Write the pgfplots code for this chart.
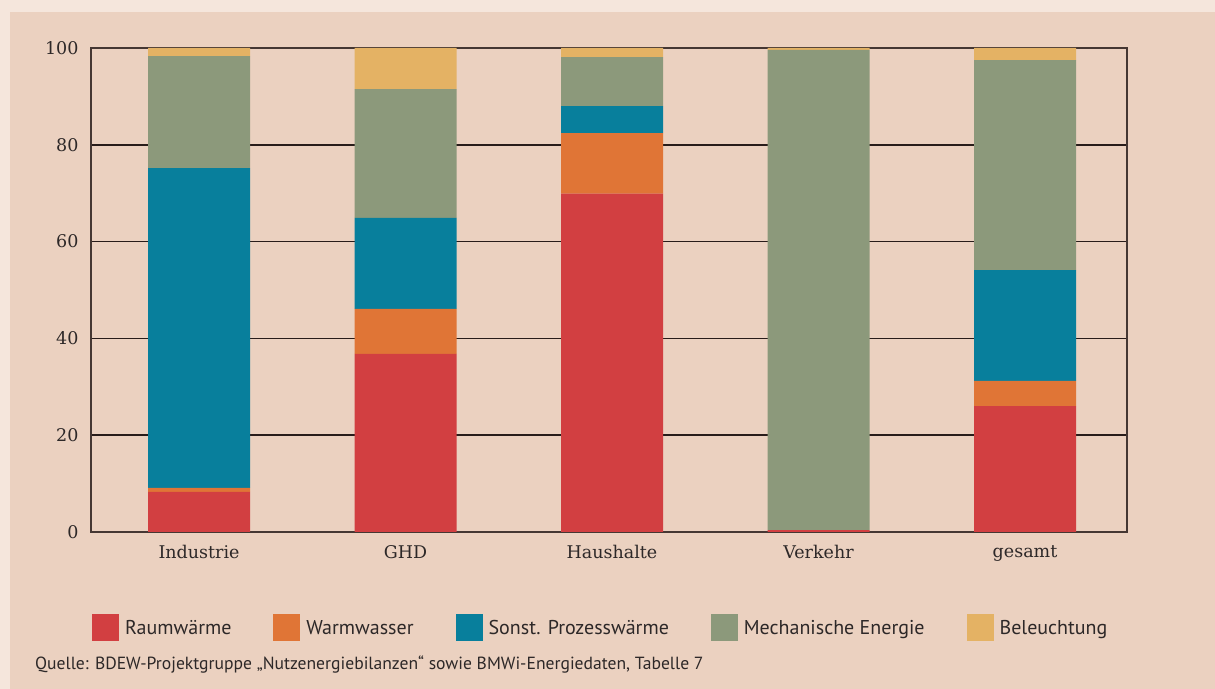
\documentclass[border=0pt]{standalone}
\usepackage{pgfplots}
\pgfplotsset{compat=1.18}
\usepackage{fontspec}
\setmainfont{DejaVu Serif}
\newfontfamily\legfont{PT Sans}
\definecolor{outerbg}{RGB}{245,230,220}
\definecolor{innerbg}{RGB}{235,209,192}
\definecolor{raum}{RGB}{210,63,65}
\definecolor{warm}{RGB}{224,117,54}
\definecolor{proz}{RGB}{8,127,156}
\definecolor{mech}{RGB}{140,153,123}
\definecolor{bel}{RGB}{228,178,100}
\definecolor{txt}{RGB}{45,40,40}
\definecolor{gridc}{RGB}{40,28,26}
\begin{document}
\begin{tikzpicture}
\fill[outerbg] (0,0) rectangle (1215bp,689bp);
\fill[innerbg] (10bp,0) rectangle (1215bp,677bp);
\begin{axis}[
  at={(91bp,157bp)}, anchor=south west,
  width=1036bp, height=484bp, scale only axis,
  ybar stacked, bar width=102bp,
  xmin=-0.523, xmax=4.494, ymin=0, ymax=100,
  xtick=data, xticklabels={Industrie,GHD,Haushalte,Verkehr,gesamt},
  ytick={0,20,40,60,80,100},
  ymajorgrids, grid style={line width=1.5bp, draw=gridc},
  axis line style={line width=1.6bp, draw=gridc!85!innerbg},
  major tick length=0pt,
  tick style={draw=none},
  ticklabel style={font=\fontsize{17.5bp}{20bp}\selectfont, text=txt},
  /pgf/number format/assume math mode=true,
  xticklabel style={yshift=-10bp},
  yticklabel style={xshift=-9bp},
  legend columns=5,
  legend style={at={(0.492,-0.198)}, anchor=center, draw=none, fill=none,
    font=\legfont\fontsize{20bp}{23bp}\selectfont, text=txt,
    /tikz/every odd column/.append style={column sep=4bp},
    /tikz/every even column/.append style={column sep=40bp}},
  legend image code/.code={\fill[#1] (0bp,-13.5bp) rectangle (27bp,13.5bp);},
]
\addplot[fill=raum, draw=none] coordinates {(0,8.3) (1,36.8) (2,69.9) (3,0.4) (4,26.0)};
\addplot[fill=warm, draw=none] coordinates {(0,0.8) (1,9.3) (2,12.5) (3,0) (4,5.2)};
\addplot[fill=proz, draw=none] coordinates {(0,66.1) (1,18.8) (2,5.6) (3,0) (4,22.9)};
\addplot[fill=mech, draw=none] coordinates {(0,23.1) (1,26.6) (2,10.1) (3,99.2) (4,43.4)};
\addplot[fill=bel, draw=none] coordinates {(0,1.7) (1,8.5) (2,1.9) (3,0.4) (4,2.5)};
\legend{Raumwärme,Warmwasser,Sonst. Prozesswärme,Mechanische Energie,Beleuchtung}
\end{axis}
\node[anchor=base west, font=\legfont\fontsize{17.6bp}{20bp}\selectfont, text=txt, inner sep=0pt] at (35bp,20bp) {Quelle: BDEW-Projektgruppe „Nutzenergiebilanzen“ sowie BMWi-Energiedaten, Tabelle 7};
\end{tikzpicture}
\end{document}
